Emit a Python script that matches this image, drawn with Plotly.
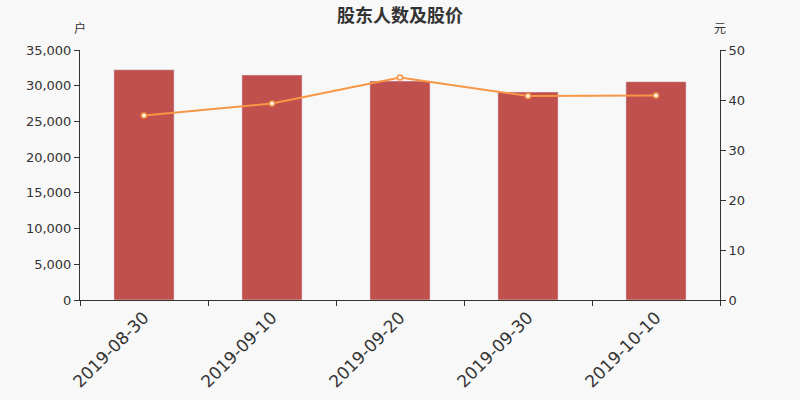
import plotly.graph_objects as go

# data
dates = ['2019-08-30', '2019-09-10', '2019-09-20', '2019-09-30', '2019-10-10']
holders = [32240, 31500, 30660, 29120, 30570]
price = [36.9, 39.3, 44.5, 40.8, 40.9]

BG = '#f8f8f8'
AXIS = '#333333'
FONT = 'Noto Sans CJK SC, DejaVu Sans, sans-serif'

fig = go.Figure()

# holder count bars (left axis)
fig.add_trace(go.Bar(
    x=dates,
    y=holders,
    name='股东人数',
    marker_color='#c0504d',
    width=0.47,
))

# share price line (right axis)
fig.add_trace(go.Scatter(
    x=dates,
    y=price,
    name='股价',
    mode='lines+markers',
    yaxis='y2',
    line=dict(color='#f79646', width=2),
    marker=dict(size=5, color='white', line=dict(color='#f79646', width=1.5)),
))

fig.update_layout(
    width=800, height=400,
    paper_bgcolor=BG,
    plot_bgcolor=BG,
    showlegend=False,
    margin=dict(l=80, r=80, t=50, b=100),
    font=dict(family=FONT, color=AXIS, size=13),
    title=dict(
        text='<b>股东人数及股价</b>',
        x=0.5, xanchor='center',
        y=0.962, yanchor='middle',
        font=dict(size=18, color='#333333'),
    ),
    xaxis=dict(
        type='category',
        automargin=False,
        tickangle=-45,
        tickfont=dict(size=17, family='DejaVu Sans, sans-serif', color=AXIS),
        showline=True, linecolor=AXIS, linewidth=1,
        ticks='outside', ticklen=5, tickcolor=AXIS,
        tickson='boundaries',
        showgrid=False,
    ),
    yaxis=dict(
        range=[0, 35000],
        dtick=5000,
        automargin=False,
        tickformat=',d',
        tickfont=dict(size=13, family='DejaVu Sans, sans-serif', color=AXIS),
        showline=True, linecolor=AXIS, linewidth=1,
        ticks='outside', ticklen=5, tickcolor=AXIS,
        showgrid=False, zeroline=False,
    ),
    yaxis2=dict(
        range=[0, 50],
        dtick=10,
        automargin=False,
        overlaying='y',
        side='right',
        tickfont=dict(size=13, family='DejaVu Sans, sans-serif', color=AXIS),
        showline=True, linecolor=AXIS, linewidth=1,
        ticks='outside', ticklen=5, tickcolor=AXIS,
        showgrid=False, zeroline=False,
    ),
    annotations=[
        dict(text='户', xref='paper', yref='paper', x=0, y=1.09,
             xanchor='center', yanchor='middle', showarrow=False,
             font=dict(size=12, color=AXIS)),
        dict(text='元', xref='paper', yref='paper', x=1, y=1.09,
             xanchor='center', yanchor='middle', showarrow=False,
             font=dict(size=12, color=AXIS)),
    ],
)

# drop the default page margin so the chart fills the window
fig.write_html('out.html', config={'displayModeBar': False},
               post_script="document.body.style.margin='0';")
